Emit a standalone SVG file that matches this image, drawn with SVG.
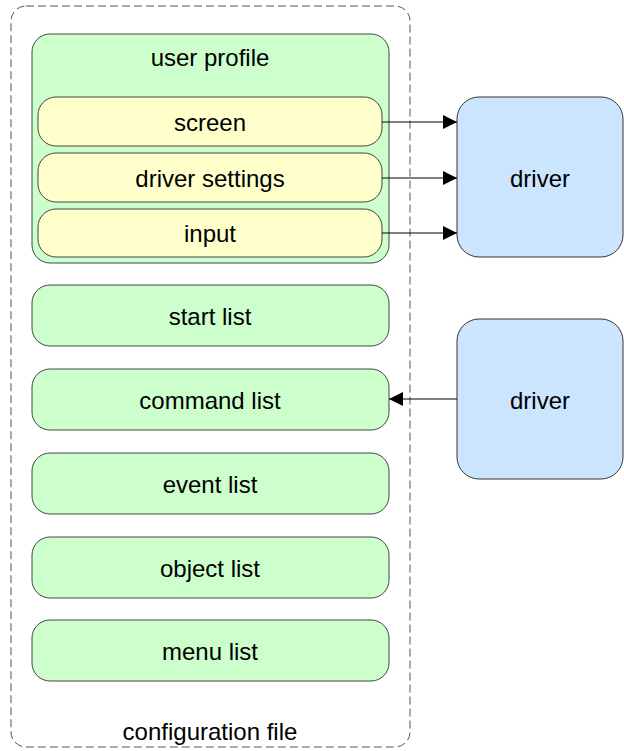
<svg xmlns="http://www.w3.org/2000/svg" width="624" height="751" viewBox="0 0 624 751">
  <style>
    text { font-family: "Liberation Sans", Arial, sans-serif; font-size: 24px; fill: #000; text-anchor: middle; dominant-baseline: central; }
    .container { fill: #fff; stroke: #555; stroke-width: 1; stroke-dasharray: 8 4; }
    .green { fill: #ccffcc; stroke: #444; stroke-width: 1; }
    .yellow { fill: #ffffcc; stroke: #444; stroke-width: 1; }
    .blue { fill: #cce5ff; stroke: #333; stroke-width: 1; }
    .edge { fill: none; stroke: #000; stroke-width: 1; }
  </style>
  <defs>
    <marker id="arrow" viewBox="0 0 10 10" refX="10" refY="5" markerWidth="14" markerHeight="14" markerUnits="userSpaceOnUse" orient="auto">
      <path d="M0,0 L10,5 L0,10 Z" fill="#000"/>
    </marker>
  </defs>

  <g id="config-file">
    <rect class="container" x="11" y="6" width="399" height="741" rx="15" ry="15"/>
    <text x="210" y="731">configuration file</text>
  </g>

  <g id="user-profile">
    <rect class="green" x="32" y="34" width="357" height="229" rx="18" ry="18"/>
    <text x="210" y="57">user profile</text>
  </g>

  <g id="screen">
    <rect class="yellow" x="38" y="97" width="344" height="49" rx="18" ry="18"/>
    <text x="210" y="122">screen</text>
  </g>
  <g id="driver-settings">
    <rect class="yellow" x="38" y="153" width="344" height="49" rx="18" ry="18"/>
    <text x="210" y="178">driver settings</text>
  </g>
  <g id="input">
    <rect class="yellow" x="38" y="209" width="344" height="48" rx="18" ry="18"/>
    <text x="210" y="233">input</text>
  </g>

  <g id="start-list">
    <rect class="green" x="32" y="285" width="357" height="61" rx="18" ry="18"/>
    <text x="210" y="316">start list</text>
  </g>
  <g id="command-list">
    <rect class="green" x="32" y="369" width="357" height="61" rx="18" ry="18"/>
    <text x="210" y="400">command list</text>
  </g>
  <g id="event-list">
    <rect class="green" x="32" y="453" width="357" height="61" rx="18" ry="18"/>
    <text x="210" y="484">event list</text>
  </g>
  <g id="object-list">
    <rect class="green" x="32" y="537" width="357" height="61" rx="18" ry="18"/>
    <text x="210" y="568">object list</text>
  </g>
  <g id="menu-list">
    <rect class="green" x="32" y="620" width="357" height="61" rx="18" ry="18"/>
    <text x="210" y="651">menu list</text>
  </g>

  <g id="driver-out">
    <rect class="blue" x="457" y="97" width="166" height="160" rx="22" ry="22"/>
    <text x="540" y="178">driver</text>
  </g>
  <g id="driver-in">
    <rect class="blue" x="457" y="319" width="166" height="160" rx="22" ry="22"/>
    <text x="540" y="400">driver</text>
  </g>

  <g id="connectors">
    <line class="edge" x1="382" y1="122" x2="457" y2="122" marker-end="url(#arrow)"/>
    <line class="edge" x1="382" y1="178" x2="457" y2="178" marker-end="url(#arrow)"/>
    <line class="edge" x1="382" y1="233" x2="457" y2="233" marker-end="url(#arrow)"/>
    <line class="edge" x1="457" y1="399" x2="389" y2="399" marker-end="url(#arrow)"/>
  </g>
</svg>
